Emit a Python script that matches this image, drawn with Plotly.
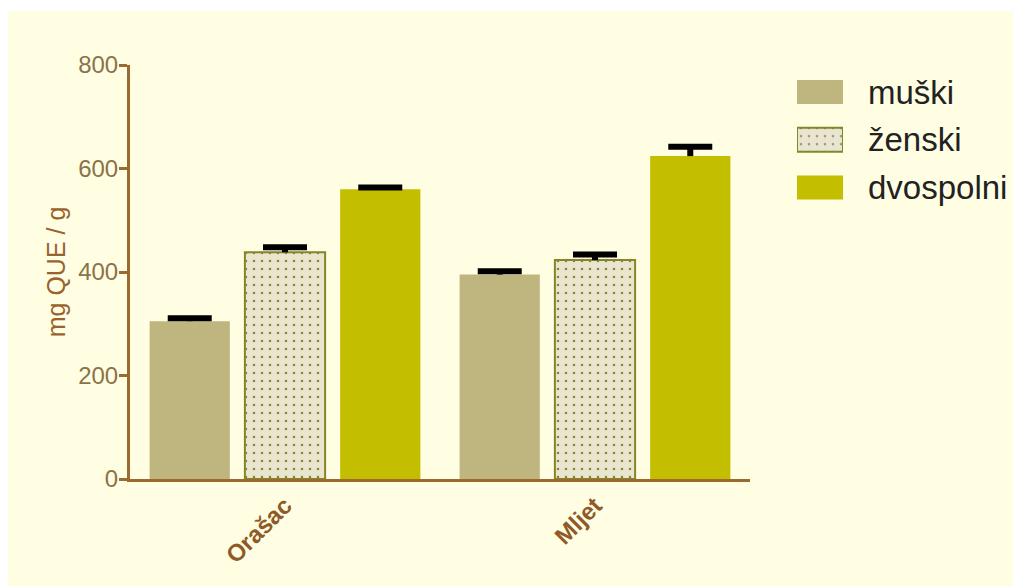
import plotly.graph_objects as go

categories = ["Orašac", "Mljet"]
series_names = ["muški", "ženski", "dvospolni"]
muski = [305, 395]
zenski = [438, 423]
dvospolni = [560, 624]
muski_err = [5.5, 6.5]
zenski_err = [10, 11]
dvospolni_err = [3.5, 18]
y_ticks = [0, 200, 400, 600, 800]

# page body adds an 8px margin; lay everything out in reference pixel coords minus that
OFF = 8
W, H = 1021 - OFF, 586 - OFF
def px_x(x):
    return (x - OFF) / W
def px_y(y):
    return (H - (y - OFF)) / H

BG = "#FFFEE3"
AXIS = "#9A6A2E"
colors = ["#BFB57F", "#EAE5CE", "#C4BE00"]
line_colors = ["#BFB57F", "#85852A", "#C4BE00"]
patterns = ["", ".", ""]
FONT = "Liberation Sans, Arial"

fig = go.Figure()
values = [muski, zenski, dvospolni]
errs = [muski_err, zenski_err, dvospolni_err]
for i, name in enumerate(series_names):
    fig.add_trace(go.Bar(
        x=categories, y=values[i], name=name, showlegend=False, offsetgroup=str(i),
        marker=dict(color=colors[i],
                    line=dict(color=line_colors[i], width=2 if i == 1 else 0),
                    pattern=dict(shape=patterns[i], fgcolor="#86863A", bgcolor=colors[i],
                                 size=8, solidity=0.08, fillmode="replace") if patterns[i] else None),
        error_y=dict(type="data", array=errs[i], arrayminus=[0] * len(errs[i]), symmetric=False,
                     color="black", thickness=6, width=0),
        xaxis="x", yaxis="y",
    ))
for i, name in enumerate(series_names):
    tops = [v + e for v, e in zip(values[i], errs[i])]
    fig.add_trace(go.Bar(
        x=categories, y=tops, showlegend=False, offsetgroup=str(i),
        marker=dict(color="rgba(0,0,0,0)", line=dict(width=0)),
        error_y=dict(type="constant", value=0, color="black", thickness=6, width=22),
        hoverinfo="skip", xaxis="x", yaxis="y",
    ))

# legend swatches drawn on an auxiliary axis
fig.add_trace(go.Bar(
    x=[1, 1, 1], y=[0, 1, 2], orientation="h", width=0.5, showlegend=False,
    marker=dict(color=colors, line=dict(color=line_colors, width=[0, 2, 0]),
                pattern=dict(shape=patterns, fgcolor="#86863A", size=8, solidity=0.08)),
    xaxis="x2", yaxis="y2", hoverinfo="skip",
))

x0, x1 = 130, 750
y_top, y_bot = 65, 479
leg_centers = [92, 140, 187.5]
slot = 47.7
leg_top = leg_centers[0] - slot / 2
leg_bot = leg_centers[-1] + slot / 2

annotations = []
for name, yc in zip(series_names, leg_centers):
    annotations.append(dict(text=name, xref="paper", yref="paper", x=px_x(866), y=px_y(yc),
                            xanchor="left", yanchor="middle", showarrow=False,
                            font=dict(family=FONT, size=33, color="#222222")))

fig.update_layout(
    width=W, height=H,
    margin=dict(l=0, r=0, t=0, b=0),
    paper_bgcolor="white", plot_bgcolor="rgba(0,0,0,0)",
    barmode="group", bargap=0.078, bargroupgap=0.158,
    showlegend=False,
    xaxis=dict(domain=[px_x(x0), px_x(x1)], range=[-0.5, 1.5], showline=True, linecolor=AXIS, linewidth=3,
               ticks="", tickangle=-45, showgrid=False, zeroline=False,
               tickfont=dict(family=FONT, size=24, color="#8E5A28", weight="bold"),
               automargin=False),
    yaxis=dict(domain=[px_y(y_bot), px_y(y_top)], range=[0, 800], tickvals=y_ticks,
               showline=True, linecolor=AXIS, linewidth=3, ticks="outside", ticklen=8, tickwidth=3,
               tickcolor=AXIS, showgrid=False, zeroline=False, ticklabelstandoff=-4,
               tickfont=dict(family=FONT, size=24, color="#8C7248"),
               title=dict(text="mg QUE / g", standoff=6,
                          font=dict(family=FONT, size=25, color="#9A6230")),
               automargin=False),
    xaxis2=dict(domain=[px_x(797), px_x(843)], range=[0, 1], visible=False, anchor="y2"),
    yaxis2=dict(domain=[px_y(leg_bot), px_y(leg_top)], range=[2.5, -0.5], visible=False, anchor="x2"),
    annotations=annotations,
    shapes=[dict(type="rect", xref="paper", yref="paper", x0=px_x(7), x1=1, y0=0, y1=px_y(11),
                 fillcolor=BG, line=dict(width=0), layer="below")],
)

fig.write_html("out.html")
